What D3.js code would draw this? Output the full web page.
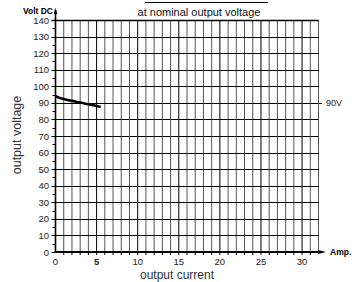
<!DOCTYPE html>
<html><head><meta charset="utf-8">
<script src="https://cdn.jsdelivr.net/npm/d3@7"></script>
<style>body{margin:0;background:#fff}svg{display:block;font-family:"Liberation Sans",Arial,sans-serif}</style>
</head><body><svg id="c" width="358" height="282"></svg>
<script>
const currentA = [0, 0.5, 1, 2, 3, 4, 5, 5.5];
const voltageV = [94, 93, 92.3, 91.2, 90.2, 89.1, 88.1, 87.5];
const xTickLabels = [0, 5, 10, 15, 20, 25, 30];
const yTickLabels = [0, 10, 20, 30, 40, 50, 60, 70, 80, 90, 100, 110, 120, 130, 140];
const nominalV = 90;

const svg = d3.select("#c");
const x = d3.scaleLinear().domain([0, 32]).range([55.5, 318.5]);
const y = d3.scaleLinear().domain([0, 140]).range([252, 20]);

const g = svg.append("g");
// vertical grid
d3.range(1, 33).forEach(v => {
  g.append("line").attr("x1", x(v)).attr("x2", x(v)).attr("y1", y(140)).attr("y2", y(0))
   .attr("stroke", v % 5 === 0 ? "#000" : "#555").attr("stroke-width", 1);
});
// horizontal grid
yTickLabels.forEach(v => {
  g.append("line").attr("x1", x(0) - 4).attr("x2", v === nominalV ? 322 : x(32))
   .attr("y1", Math.round(y(v)) + 0.5).attr("y2", Math.round(y(v)) + 0.5)
   .attr("stroke", "#000").attr("stroke-width", v === 140 ? 1.5 : 1);
});
// minor y ticks
d3.range(5, 140, 10).forEach(v => {
  g.append("line").attr("x1", x(0) - 3).attr("x2", x(0))
   .attr("y1", Math.round(y(v)) + 0.5).attr("y2", Math.round(y(v)) + 0.5)
   .attr("stroke", "#000");
});
// x minor ticks below axis
d3.range(1, 32).forEach(v => {
  g.append("line").attr("x1", x(v)).attr("x2", x(v)).attr("y1", y(0)).attr("y2", y(0) + 3)
   .attr("stroke", "#000");
});
// y axis with arrow
g.append("line").attr("x1", x(0)).attr("x2", x(0)).attr("y1", 10).attr("y2", y(0) + 1)
 .attr("stroke", "#000").attr("stroke-width", 1.6);
g.append("path").attr("d", `M${x(0)-1.8},14 L${x(0)},8 L${x(0)+1.8},14 Z`).attr("fill", "#000");
// x axis with arrow
g.append("line").attr("x1", x(0) - 1).attr("x2", 322).attr("y1", y(0)).attr("y2", y(0))
 .attr("stroke", "#000").attr("stroke-width", 2);
g.append("path").attr("d", `M318,${y(0)-2} L326,${y(0)} L318,${y(0)+2} Z`).attr("fill", "#000");

// y tick labels
g.selectAll(".yl").data(yTickLabels).enter().append("text")
 .attr("x", 49).attr("y", d => y(d) + 3.5).attr("text-anchor", "end")
 .attr("font-size", 9.5).attr("fill", "#222").text(d => d);
// x tick labels
g.selectAll(".xl").data(xTickLabels).enter().append("text")
 .attr("x", d => x(d)).attr("y", 265).attr("text-anchor", "middle")
 .attr("font-size", 9.5).attr("fill", "#222").attr("font-weight", d => d === 5 ? "bold" : "normal").text(d => d);

// curve
const line = d3.line().x(d => x(d[0])).y(d => y(d[1])).curve(d3.curveMonotoneX);
g.append("path").datum(currentA.map((a, i) => [a, voltageV[i]])).attr("d", line)
 .attr("fill", "none").attr("stroke", "#000").attr("stroke-width", 2.6);

// labels
g.append("text").attr("x", 53).attr("y", 13.5).attr("text-anchor", "end")
 .attr("font-size", 8.5).attr("font-weight", "bold").text("Volt DC");
g.append("text").attr("x", 330).attr("y", 255)
 .attr("font-size", 8.5).attr("font-weight", "bold").text("Amp.");
g.append("text").attr("x", 326).attr("y", y(nominalV) + 3.5)
 .attr("font-size", 9).attr("fill", "#222").text("90V");
g.append("text").attr("x", 199).attr("y", 16).attr("text-anchor", "middle")
 .attr("font-size", 11).attr("fill", "#111").text("at nominal output voltage");
g.append("line").attr("x1", 145).attr("x2", 268).attr("y1", 2.5).attr("y2", 2.5).attr("stroke", "#000");
g.append("text").attr("transform", "translate(21,135) rotate(-90)").attr("text-anchor", "middle")
 .attr("font-size", 12.5).attr("fill", "#333").text("output voltage");
g.append("text").attr("x", 177).attr("y", 278.5).attr("text-anchor", "middle")
 .attr("font-size", 12).attr("fill", "#333").text("output current");
</script></body></html>
